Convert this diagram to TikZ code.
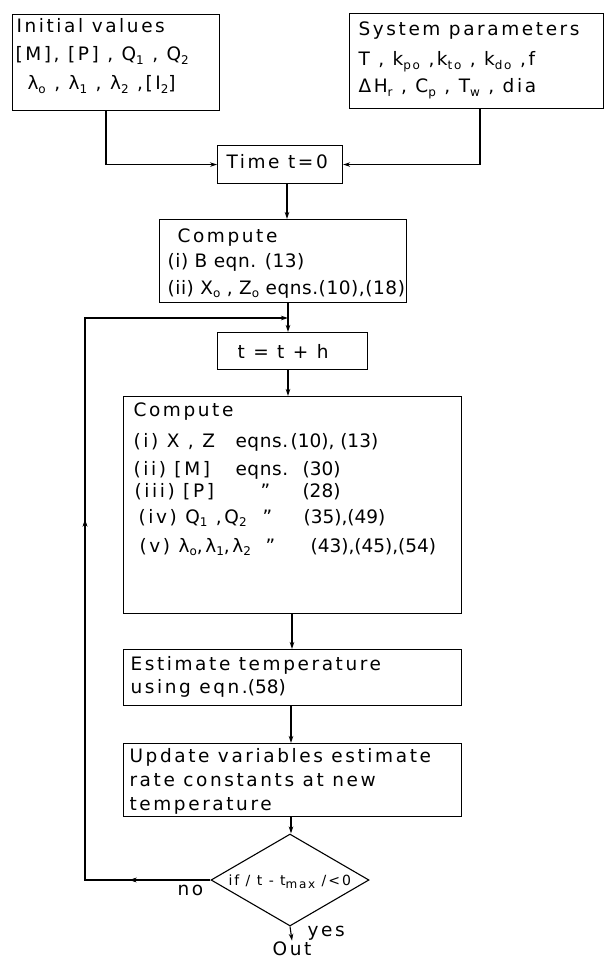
\documentclass[tikz,border=0pt]{standalone}
\usepackage{fontspec}
\setmainfont[LetterSpace=14]{DejaVu Sans}
\newfontfamily\tightfont[LetterSpace=3]{DejaVu Sans}
\newfontfamily\numfont{DejaVu Sans}
\usetikzlibrary{arrows.meta,shapes.geometric,decorations.markings}
\newcommand\sbs[1]{\raisebox{-3.5pt}{\fontsize{12}{12}\selectfont #1}}
\newcommand\col[2]{\makebox[#1pt][l]{#2}}
\newcommand\nb[1]{{\numfont #1}}
\begin{document}
\begin{tikzpicture}[x=1pt,y=-1pt,line width=1.1pt,
  box/.style={draw,rectangle,inner sep=0pt,anchor=north west},
  txt/.style={anchor=base west,inner sep=0pt,font=\fontsize{18.5}{20}\selectfont},
  tight/.style={txt,font=\fontsize{18.5}{20}\selectfont\tightfont},
  small/.style={txt,font=\fontsize{14}{18}\selectfont},
  tip/.style={-{Stealth[length=7pt,width=4.5pt]}},
  midtip/.style={postaction={decorate},decoration={markings,
     mark=at position #1 with {\arrow{Stealth[length=7pt,width=4.5pt]}}}}]
\useasboundingbox (0,0) rectangle (606,960);

% boxes
\node[box,minimum width=207pt,minimum height=96pt] (init) at (12,14) {};
\node[box,minimum width=254pt,minimum height=95pt] (sys) at (349,13) {};
\node[box,minimum width=125pt,minimum height=38pt] (time) at (217,145) {};
\node[box,minimum width=247pt,minimum height=83pt] (c1) at (159,219) {};
\node[box,minimum width=150pt,minimum height=37pt] (tth) at (217,332) {};
\node[box,minimum width=338pt,minimum height=217pt] (c2) at (123,396) {};
\node[box,minimum width=338pt,minimum height=56pt] (est) at (123,649) {};
\node[box,minimum width=338pt,minimum height=73pt] (upd) at (123,743) {};
\node[draw,diamond,shape aspect=1,inner sep=0pt,minimum width=158pt,minimum height=92pt] (dia) at (290,880) {};

% texts
\node[txt] (it1) at (16,33) {Initial values};
\node[txt] (it2) at (15,61) {[M], [P] , Q\sbs{1} , Q\sbs{2}};
\node[txt] (it3) at (27,90) {λ\sbs{o} , λ\sbs{1} , λ\sbs{2} ,[I\sbs{2}]};
\node[txt] (st1) at (358,36) {System parameters};
\node[txt] (st2) at (358,66) {T , k\sbs{po} ,k\sbs{to} , k\sbs{do} ,f};
\node[txt] (st3) at (358,93) {ΔH\sbs{r} , C\sbs{p} , T\sbs{w} , dia};
\node[txt] (tt) at (226,169) {Time t=0};
\node[txt] (c1a) at (177,242) {Compute};
\node[tight] (c1b) at (167,267) {(i) B eqn. (13)};
\node[tight] (c1c) at (167,294) {(ii) X\sbs{o} , Z\sbs{o}  eqns.(10),(18)};
\node[txt] (th) at (237,358) {t = t + h};
\node[txt] (c2a) at (133,416) {Compute};
\node[txt] (c2b) at (133,447) {\col{102}{(i) X , Z}\col{55}{\tightfont eqns.}\nb{(10), (13)}};
\node[txt] (c2c) at (133,475) {\col{102}{(ii) [M]}\col{67}{\tightfont eqns.}\nb{(30)}};
\node[txt] (c2d) at (134,497) {\col{126}{(iii) [P]}\col{42}{”}\nb{(28)}};
\node[txt] (c2e) at (138,523) {\col{124}{(iv) Q\sbs{1} ,Q\sbs{2}}\col{41}{”}\nb{(35),(49)}};
\node[txt] (c2f) at (139,552) {\col{126}{(v) λ\sbs{o},λ\sbs{1},λ\sbs{2}}\col{45}{”}\nb{(43),(45),(54)}};
\node[txt] (es1) at (130,670) {Estimate temperature};
\node[txt] (es2) at (130,693) {using eqn.\nb{(58)}};
\node[txt] (up1) at (129,762) {Update variables estimate};
\node[txt] (up2) at (129,786) {rate constants at new};
\node[txt] (up3) at (129,810) {temperature};
\node[small] (dt) at (228,885) {if / t - t\sbs{max} /<0};
\node[txt] (no) at (177,895) {no};
\node[txt] (yes) at (307,936) {yes};
\node[txt,anchor=base] (out) at (292,955) {Out};

% connectors
\coordinate (a1) at (106,0);
\coordinate (a2) at (480,0);
\coordinate (s1) at (287,0);
\coordinate (s2) at (288,0);
\coordinate (s3) at (292,0);
\coordinate (s4) at (291,0);
\draw[tip] (init.south -| a1) |- (time.west);
\draw[tip] (sys.south -| a2) |- (time.east);
\draw[tip] (time.south -| s1) -- (c1.north -| s1);
\draw[tip] (c1.south -| s2) -- (tth.north -| s2);
\draw[tip] (tth.south -| s2) -- (c2.north -| s2);
\draw[tip] (c2.south -| s3) -- (est.north -| s3);
\draw[tip] (est.south -| s4) -- (upd.north -| s4);
\draw[tip] (upd.south -| s4) -- (dia.north -| s4);
\draw[tip] (dia.south) -- (out.north);
\coordinate (lc) at (85,318);
\coordinate (jn) at (288,318);
\draw[tip,midtip=81pt,postaction={decorate},decoration={markings,
   mark=at position 486pt with {\arrow{Stealth[length=7pt,width=4.5pt]}}}]
   (dia.west) -- (dia.west -| lc) -- (lc) -- (jn);
\end{tikzpicture}
\end{document}
